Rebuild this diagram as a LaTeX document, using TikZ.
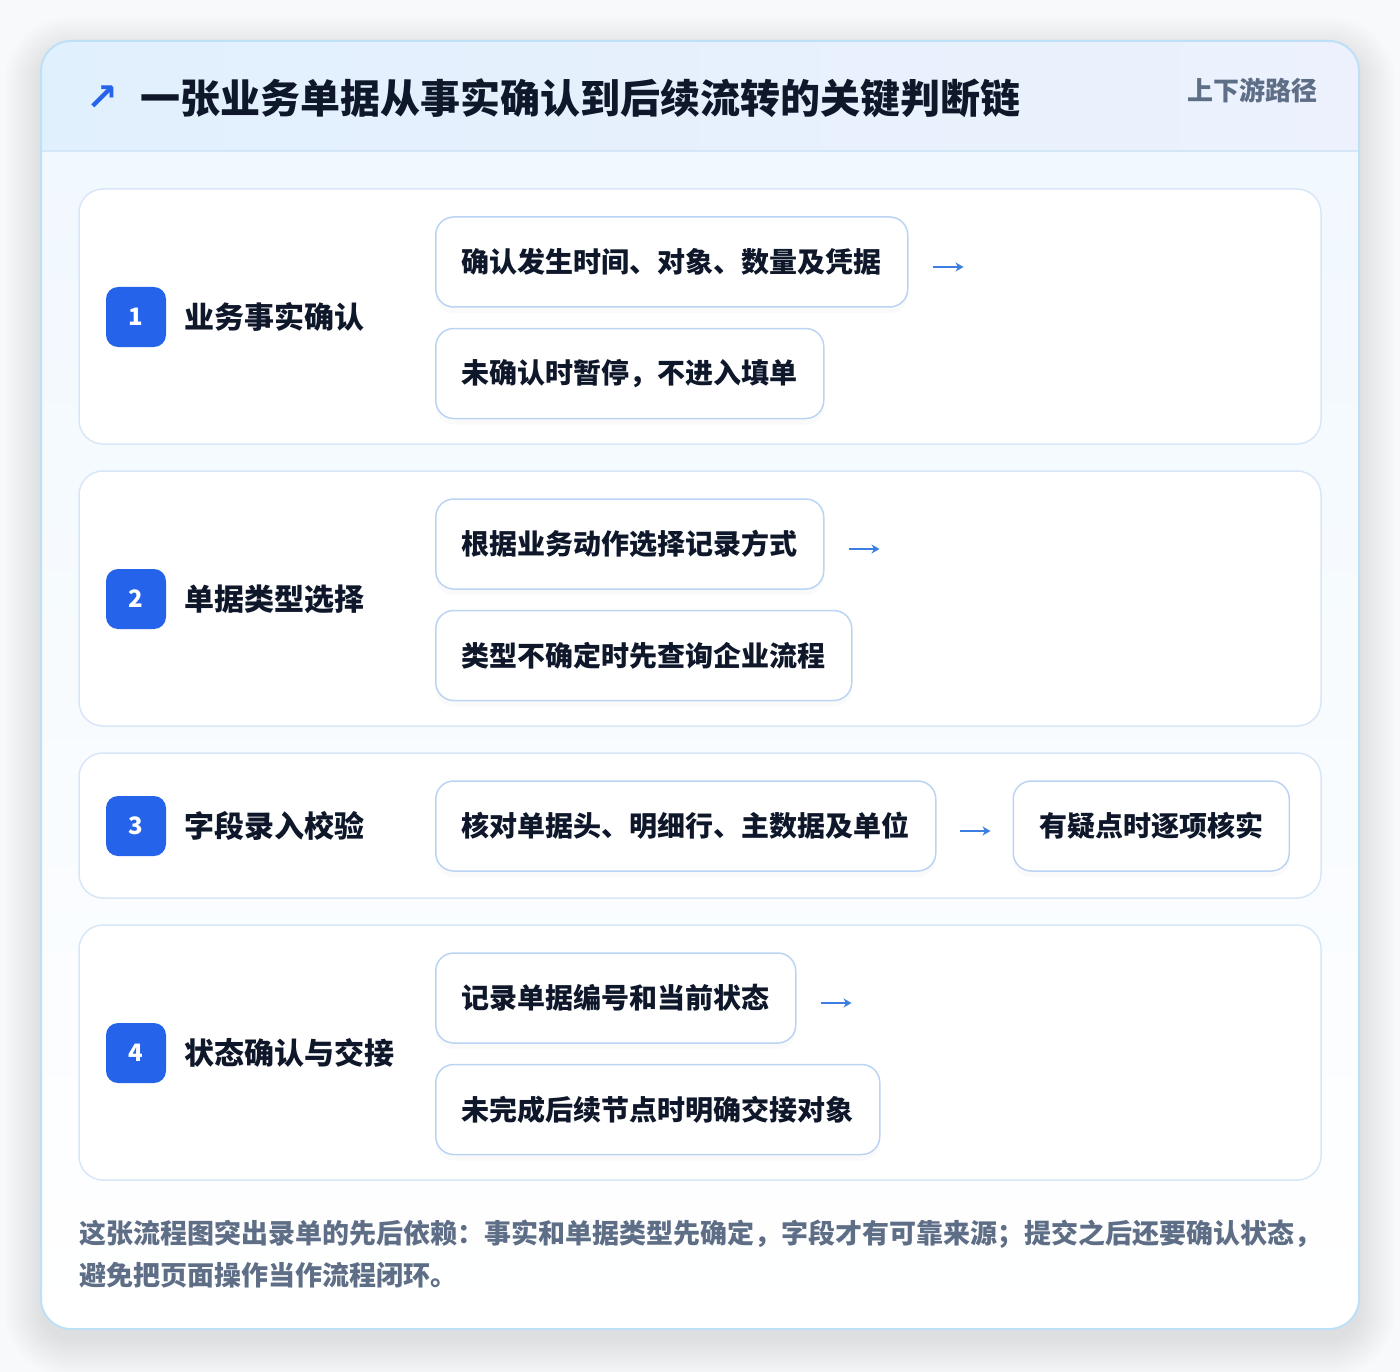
\documentclass[tikz,border=0pt]{standalone}
\usepackage{fontspec}
\setmainfont{Noto Sans CJK SC}
\newfontfamily\symfont{DejaVu Sans}
\usetikzlibrary{positioning,shadows,arrows.meta}

\definecolor{pagebg}{HTML}{F8F9FB}
\definecolor{cardline}{HTML}{BEE0F6}
\definecolor{headleft}{HTML}{E1F0FD}
\definecolor{headright}{HTML}{ECF1FD}
\definecolor{headline}{HTML}{D3E7F8}
\definecolor{bodytop}{HTML}{F1F8FE}
\definecolor{rowline}{HTML}{D8E7F8}
\definecolor{boxline}{HTML}{BBD4F3}
\definecolor{badgeblue}{HTML}{2563EB}
\definecolor{arrowblue}{HTML}{3D7EE2}
\definecolor{ink}{HTML}{0F172A}
\definecolor{muted}{HTML}{5E6E86}

\begin{document}
\begin{tikzpicture}[x=1pt,y=-1pt,
    rowcard/.style={draw=rowline, line width=1.5pt, fill=white, rounded corners=24pt,
        minimum width=1242pt, inner sep=0pt},
    badge/.style={fill=badgeblue, rounded corners=12pt, minimum size=60pt, inner sep=0pt,
        text=white, font=\bfseries\fontsize{24}{24}\selectfont},
    steplabel/.style={anchor=west, inner sep=0pt, text=ink, font=\bfseries\fontsize{30}{30}\selectfont},
    itembox/.style={draw=boxline, line width=1.5pt, fill=white, rounded corners=18pt,
        minimum height=90pt, inner xsep=26pt, inner ysep=0pt, text=ink,
        font=\bfseries\fontsize{28}{28}\selectfont,
        drop shadow={opacity=0.04, shadow xshift=0pt, shadow yshift=-6pt}},
    flow/.style={-{Stealth[length=8pt,width=9pt]}, arrowblue, line width=2.2pt}
]
    \useasboundingbox (0,0) rectangle (1400,1372);
    \fill[pagebg] (0,0) rectangle (1400,1372);

    % Outer card with soft shadow
    \foreach \g in {0,3,...,36}
        \fill[black, opacity=0.006, rounded corners={(30+\g)*1pt}]
            (41-\g, 53-\g) rectangle (1359+\g, 1341+\g);
    \begin{scope}
        \clip[rounded corners=30pt] (41,41) rectangle (1359,1329);
        \fill[top color=bodytop, bottom color=white] (41,151) rectangle (1359,1329);
        \fill[left color=headleft, right color=headright] (41,41) rectangle (1359,151);
        \draw[headline, line width=1.5pt] (41,151) -- (1359,151);
    \end{scope}
    \draw[cardline, line width=2pt, rounded corners=30pt] (41,41) rectangle (1359,1329);

    % Header
    \node[text=badgeblue, font=\symfont\bfseries\fontsize{38}{38}\selectfont, inner sep=0pt] (icon) at (102,98) {↗};
    \node[anchor=west, inner sep=0pt, text=ink, font=\bfseries\fontsize{40}{40}\selectfont] (title) at (140,98)
        {一张业务单据从事实确认到后续流转的关键判断链};
    \node[anchor=east, inner sep=0pt, text=muted, font=\bfseries\fontsize{26}{26}\selectfont] (tag) at (1318,90)
        {上下游路径};

    % Row cards
    \node[rowcard, minimum height=255pt] (r1) at (700,316.5) {};
    \node[rowcard, minimum height=255pt] (r2) at (700,598.5) {};
    \node[rowcard, minimum height=145pt] (r3) at (700,825.5) {};
    \node[rowcard, minimum height=255pt] (r4) at (700,1052.5) {};

    % Step 1
    \node[badge] (n1) at (136,317) {1};
    \node[steplabel] (s1) at (184,317) {业务事实确认};
    \node[itembox, anchor=west] (b11) at (435,262) {确认发生时间、对象、数量及凭据};
    \node[itembox, below=20pt of b11.south west, anchor=north west] (b12) {未确认时暂停，不进入填单};
    \draw[flow] ([xshift=24pt,yshift=-5pt]b11.east) -- ++(31,0);

    % Step 2
    \node[badge] (n2) at (136,599) {2};
    \node[steplabel] (s2) at (184,599) {单据类型选择};
    \node[itembox, anchor=west] (b21) at (435,544) {根据业务动作选择记录方式};
    \node[itembox, below=20pt of b21.south west, anchor=north west] (b22) {类型不确定时先查询企业流程};
    \draw[flow] ([xshift=24pt,yshift=-5pt]b21.east) -- ++(31,0);

    % Step 3
    \node[badge] (n3) at (136,826) {3};
    \node[steplabel] (s3) at (184,826) {字段录入校验};
    \node[itembox, anchor=west] (b31) at (435,826) {核对单据头、明细行、主数据及单位};
    \node[itembox, right=76pt of b31] (b32) {有疑点时逐项核实};
    \draw[flow] ([xshift=23pt,yshift=-5pt]b31.east) -- ([xshift=-22pt,yshift=-5pt]b32.west);

    % Step 4
    \node[badge] (n4) at (136,1053) {4};
    \node[steplabel] (s4) at (184,1053) {状态确认与交接};
    \node[itembox, anchor=west] (b41) at (435,998) {记录单据编号和当前状态};
    \node[itembox, below=20pt of b41.south west, anchor=north west] (b42) {未完成后续节点时明确交接对象};
    \draw[flow] ([xshift=24pt,yshift=-5pt]b41.east) -- ++(31,0);

    % Footer note
    \node[anchor=west, align=left, inner sep=0pt, text=muted,
          font=\bfseries\fontsize{27}{42}\selectfont] (note) at (79,1254)
        {这张流程图突出录单的先后依赖：事实和单据类型先确定，字段才有可靠来源；提交之后还要确认状态，\\
         避免把页面操作当作流程闭环。};
\end{tikzpicture}
\end{document}
